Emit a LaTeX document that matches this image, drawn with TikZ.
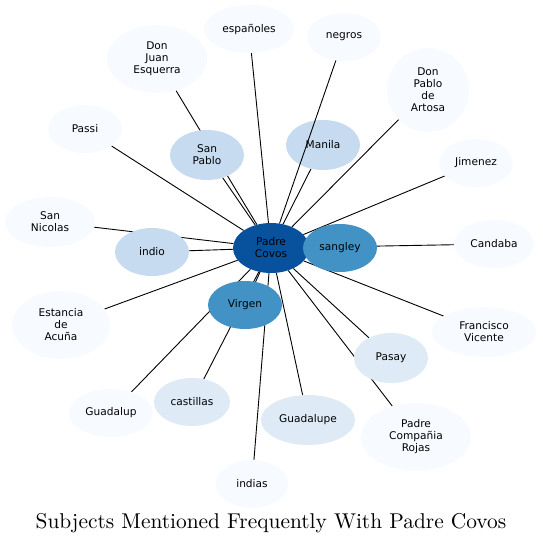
\documentclass[tikz,border=0pt]{standalone}
\usepackage{fontspec}
\newfontfamily\labelfont{DejaVu Sans}
\usetikzlibrary{shapes.geometric,backgrounds}
\definecolor{tonedeep}{HTML}{08519C}
\definecolor{tonemid}{HTML}{4292C6}
\definecolor{tonesoft}{HTML}{C6DBEF}
\definecolor{tonepale}{HTML}{DEEBF7}
\definecolor{tonefaint}{HTML}{F7FBFF}
\begin{document}
\begin{tikzpicture}[x=1pt, y=-1pt,
  subj/.style={ellipse, inner sep=0pt, align=center, text=black,
    font=\labelfont\fontsize{10.6}{12}\selectfont},
  link/.style={line width=0.9pt, black}]
  \useasboundingbox (0,0) rectangle (542,545);
  % hub
  \node[subj, fill=tonedeep, minimum width=76, minimum height=50] (covos) at (271,248) {Padre\\Covos};
  % strongest neighbours
  \node[subj, fill=tonemid, minimum width=74, minimum height=48] (sangley) at (340,248) {sangley};
  \node[subj, fill=tonemid, minimum width=74, minimum height=48] (virgen) at (245,305) {Virgen};
  \node[subj, fill=tonesoft, minimum width=74, minimum height=48] (indio) at (152,252) {indio};
  \node[subj, fill=tonesoft, minimum width=74, minimum height=50] (sanpablo) at (207,155) {San\\Pablo};
  \node[subj, fill=tonesoft, minimum width=74, minimum height=50] (manila) at (323,145) {Manila};
  \node[subj, fill=tonepale, minimum width=76, minimum height=48] (castillas) at (192,402) {castillas};
  \node[subj, fill=tonepale, minimum width=94, minimum height=50] (guadalupe) at (308,420) {Guadalupe};
  \node[subj, fill=tonepale, minimum width=74, minimum height=50] (pasay) at (391,358) {Pasay};
  % outer ring
  \node[subj, fill=tonefaint, minimum width=100, minimum height=68] (esquerra) at (157,59) {Don\\Juan\\Esquerra};
  \node[subj, fill=tonefaint, minimum width=90, minimum height=48] (espanoles) at (249,29) {españoles};
  \node[subj, fill=tonefaint, minimum width=74, minimum height=48] (negros) at (344,37) {negros};
  \node[subj, fill=tonefaint, minimum width=82, minimum height=84] (artosa) at (428,90) {Don\\Pablo\\de\\Artosa};
  \node[subj, fill=tonefaint, minimum width=74, minimum height=48] (jimenez) at (476,163) {Jimenez};
  \node[subj, fill=tonefaint, minimum width=80, minimum height=48] (candaba) at (494,244) {Candaba};
  \node[subj, fill=tonefaint, minimum width=104, minimum height=50] (vicente) at (484,332) {Francisco\\Vicente};
  \node[subj, fill=tonefaint, minimum width=110, minimum height=68] (rojas) at (416,437) {Padre\\Compañia\\Rojas};
  \node[subj, fill=tonefaint, minimum width=72, minimum height=48] (indias) at (252,484) {indias};
  \node[subj, fill=tonefaint, minimum width=84, minimum height=48] (guadalup) at (111,413) {Guadalup};
  \node[subj, fill=tonefaint, minimum width=98, minimum height=68] (acuna) at (61,325) {Estancia\\de\\Acuña};
  \node[subj, fill=tonefaint, minimum width=90, minimum height=50] (nicolas) at (50,222) {San\\Nicolas};
  \node[subj, fill=tonefaint, minimum width=74, minimum height=48] (passi) at (85,129) {Passi};
  % edges behind the nodes
  \begin{scope}[on background layer]
    \foreach \n in {sangley,virgen,indio,sanpablo,manila,castillas,guadalupe,pasay,
      esquerra,espanoles,artosa,jimenez,candaba,vicente,rojas,indias,guadalup,acuna,nicolas,passi}
      \draw[link] (covos) -- (\n);
  \end{scope}
  \draw[link] (covos) -- (negros);
  % title
  \node[font=\normalsize, scale=2.14] (title) at (271,523) {Subjects Mentioned Frequently With Padre Covos};
\end{tikzpicture}
\end{document}
